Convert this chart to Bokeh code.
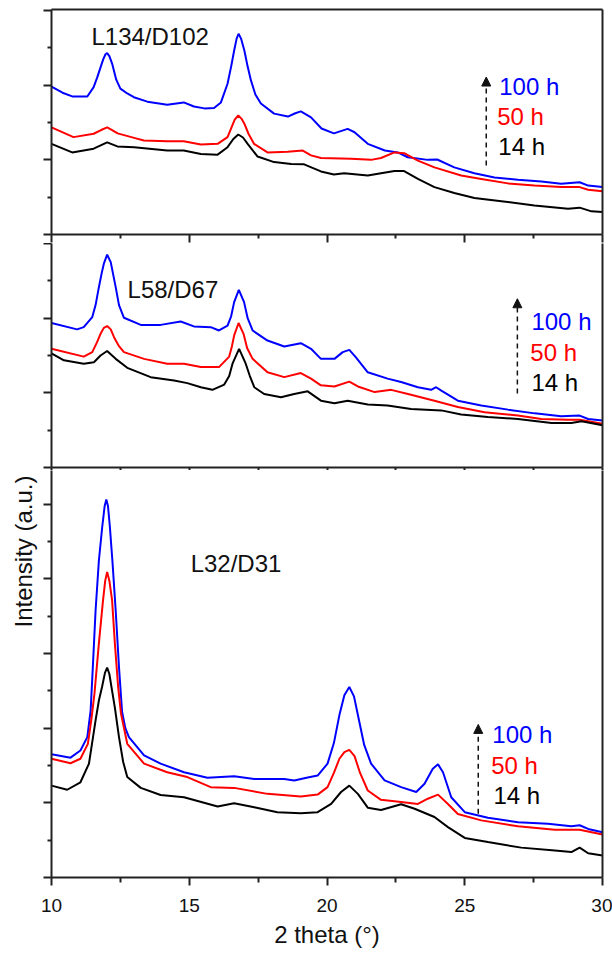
import math
from bokeh.plotting import figure
from bokeh.layouts import column, row
from bokeh.models import (FixedTicker, LinearAxis, Range1d, Arrow,
                          NormalHead, ColumnDataSource)
from bokeh.core.properties import value
from bokeh.embed import file_html
from bokeh.resources import INLINE

# ---------------- data ----------------
x_ticks = [10, 15, 20, 25, 30]
x_minor = [12.5, 17.5, 22.5, 27.5]
series_colors = ["#0000FF", "#FF0000", "#000000"]
series_names = ["100 h", "50 h", "14 h"]
panel_names = ["L134/D102", "L58/D67", "L32/D31"]
y_title = "Intensity (a.u.)"
x_title = "2 theta (\u00b0)"

# panel 1 : L134/D102
p1_blue = [(10, 3.96), (10.4, 3.80), (10.75, 3.70), (11.3, 3.70), (11.53, 3.95), (11.66, 4.21),
           (11.78, 4.48), (11.88, 4.70), (11.96, 4.83), (12.02, 4.86), (12.1, 4.78), (12.2, 4.58),
           (12.35, 4.15), (12.5, 3.91), (12.75, 3.78), (12.99, 3.68), (13.48, 3.56), (14.2, 3.48),
           (14.8, 3.54), (15.17, 3.43), (15.55, 3.38), (15.9, 3.39), (16.15, 3.54), (16.39, 4.04),
           (16.52, 4.50), (16.63, 4.93), (16.72, 5.25), (16.79, 5.38), (16.88, 5.25), (17.0, 4.93),
           (17.12, 4.50), (17.24, 4.13), (17.4, 3.75), (17.6, 3.51), (18.08, 3.24), (18.58, 3.16),
           (18.85, 3.25), (19.05, 3.30), (19.42, 3.14), (19.8, 2.84), (20.25, 2.71), (20.75, 2.83),
           (21.0, 2.74), (21.48, 2.43), (22.1, 2.25), (22.57, 2.20), (22.93, 2.07), (23.66, 2.00),
           (24.0, 2.01), (24.62, 1.80), (25.35, 1.64), (26.08, 1.53), (26.93, 1.47), (27.78, 1.42),
           (28.5, 1.36), (29.17, 1.40), (29.48, 1.31), (30, 1.27)]
p1_red = [(10, 2.87), (10.8, 2.61), (11.53, 2.70), (11.8, 2.80), (12.02, 2.87), (12.2, 2.80),
          (12.4, 2.71), (13.0, 2.59), (13.35, 2.52), (14.2, 2.50), (14.8, 2.50), (15.42, 2.41),
          (16.03, 2.43), (16.39, 2.61), (16.55, 2.90), (16.65, 3.08), (16.78, 3.19), (16.9, 3.10),
          (17.0, 2.97), (17.15, 2.70), (17.35, 2.43), (17.84, 2.20), (18.57, 2.22), (19.12, 2.25),
          (19.42, 2.12), (19.78, 2.05), (20.87, 2.03), (21.6, 2.00), (21.96, 2.05), (22.45, 2.20),
          (22.8, 2.18), (23.3, 1.98), (23.9, 1.80), (24.87, 1.58), (25.6, 1.49), (26.57, 1.37),
          (27.53, 1.31), (28.5, 1.27), (29.17, 1.27), (29.48, 1.20), (30, 1.16)]
p1_black = [(10, 2.43), (10.75, 2.20), (11.53, 2.30), (12.02, 2.47), (12.39, 2.36), (13.0, 2.34),
            (14.2, 2.25), (14.8, 2.25), (15.42, 2.16), (16.03, 2.14), (16.39, 2.34), (16.6, 2.56),
            (16.78, 2.68), (16.95, 2.60), (17.12, 2.43), (17.48, 2.09), (18.08, 1.94), (18.7, 1.89),
            (19.17, 1.88), (19.78, 1.69), (20.25, 1.61), (20.62, 1.64), (21.48, 1.58), (21.96, 1.64),
            (22.45, 1.70), (22.8, 1.70), (23.3, 1.49), (23.9, 1.27), (24.62, 1.11), (25.35, 0.98),
            (26.33, 0.89), (27.53, 0.78), (28.75, 0.69), (29.17, 0.72), (29.6, 0.62), (30, 0.60)]

# panel 2 : L58/D67
p2_blue = [(10, 3.87), (10.93, 3.70), (11.17, 3.76), (11.48, 4.03), (11.6, 4.35), (11.72, 4.83),
           (11.82, 5.20), (11.9, 5.46), (12.02, 5.70), (12.15, 5.50), (12.33, 4.83), (12.45, 4.35),
           (12.63, 4.01), (13.24, 3.82), (13.96, 3.82), (14.69, 3.91), (15.17, 3.78), (15.78, 3.76),
           (16.08, 3.67), (16.39, 3.80), (16.52, 4.05), (16.63, 4.43), (16.8, 4.76), (16.99, 4.43),
           (17.12, 4.00), (17.3, 3.67), (17.84, 3.40), (18.45, 3.24), (19.05, 3.33), (19.42, 3.18),
           (19.78, 2.91), (20.27, 2.91), (20.57, 3.09), (20.81, 3.15), (21.05, 2.95), (21.48, 2.55),
           (22.2, 2.38), (22.69, 2.29), (23.3, 2.15), (23.78, 2.08), (23.96, 2.15), (24.15, 2.06),
           (24.75, 1.79), (25.6, 1.66), (26.57, 1.55), (27.54, 1.45), (28.5, 1.37), (29.17, 1.39),
           (29.48, 1.30), (30, 1.26)]
p2_red = [(10, 3.18), (11.17, 2.97), (11.48, 3.09), (11.65, 3.35), (11.78, 3.58), (11.9, 3.74),
          (12.02, 3.79), (12.15, 3.70), (12.27, 3.49), (12.45, 3.25), (12.63, 3.09), (13.36, 2.91),
          (14.2, 2.78), (14.81, 2.78), (15.42, 2.69), (16.08, 2.69), (16.45, 2.97), (16.55, 3.25),
          (16.63, 3.54), (16.79, 3.87), (16.97, 3.58), (17.1, 3.20), (17.3, 2.91), (17.84, 2.55),
          (18.45, 2.42), (19.05, 2.53), (19.42, 2.38), (19.78, 2.20), (20.27, 2.17), (20.81, 2.30),
          (21.12, 2.17), (21.73, 2.02), (22.33, 2.08), (22.94, 1.97), (23.9, 1.79), (24.75, 1.62),
          (25.72, 1.48), (26.93, 1.39), (27.78, 1.30), (28.75, 1.28), (29.17, 1.28), (30, 1.17)]
p2_black = [(10, 3.06), (10.45, 2.87), (11.17, 2.78), (11.54, 2.82), (11.78, 3.00), (12.02, 3.12),
            (12.33, 2.91), (12.75, 2.67), (13.6, 2.42), (14.45, 2.33), (14.93, 2.26), (15.42, 2.15),
            (15.84, 2.08), (16.27, 2.22), (16.45, 2.45), (16.57, 2.78), (16.81, 3.18), (17.05, 2.78),
            (17.2, 2.45), (17.36, 2.15), (17.72, 1.97), (18.33, 1.88), (18.81, 1.97), (19.3, 2.04),
            (19.78, 1.79), (20.27, 1.72), (20.75, 1.79), (21.48, 1.69), (22.2, 1.66), (23.05, 1.57),
            (24.15, 1.53), (24.87, 1.42), (25.84, 1.35), (26.93, 1.30), (28.15, 1.19), (28.87, 1.19),
            (29.24, 1.24), (30, 1.13)]

# panel 3 : L32/D31
p3_blue = [(10, 3.30), (10.69, 3.21), (11.05, 3.40), (11.3, 3.76), (11.42, 4.47), (11.5, 5.63),
           (11.6, 7.15), (11.72, 8.49), (11.84, 9.38), (11.93, 9.95), (11.99, 10.12), (12.05, 9.95),
           (12.12, 9.38), (12.21, 8.49), (12.33, 7.15), (12.45, 5.63), (12.56, 4.45), (12.68, 4.00),
           (12.81, 3.76), (13.36, 3.27), (13.96, 3.05), (14.81, 2.82), (15.66, 2.67), (16.63, 2.71),
           (17.36, 2.64), (18.45, 2.64), (18.81, 2.60), (19.3, 2.68), (19.66, 2.73), (20.02, 3.05),
           (20.25, 3.60), (20.45, 4.35), (20.63, 4.88), (20.81, 5.10), (20.98, 4.85), (21.15, 4.25),
           (21.35, 3.55), (21.6, 3.05), (22.09, 2.60), (22.69, 2.42), (23.24, 2.29), (23.54, 2.51),
           (23.84, 2.91), (24.03, 3.03), (24.21, 2.82), (24.51, 2.15), (25.0, 1.75), (25.84, 1.60),
           (26.93, 1.48), (28.02, 1.44), (28.87, 1.37), (29.17, 1.40), (29.48, 1.30), (30, 1.21)]
p3_red = [(10, 3.18), (10.69, 3.06), (11.05, 3.18), (11.32, 3.58), (11.45, 4.25), (11.56, 4.93),
          (11.72, 6.27), (11.87, 7.42), (11.95, 7.95), (12.02, 8.18), (12.1, 7.95), (12.2, 7.42),
          (12.3, 6.27), (12.42, 5.10), (12.52, 4.40), (12.75, 3.58), (13.36, 3.05), (14.2, 2.82),
          (14.93, 2.69), (15.78, 2.42), (16.63, 2.40), (17.84, 2.24), (19.05, 2.17), (19.66, 2.22),
          (20.02, 2.42), (20.25, 2.80), (20.45, 3.18), (20.63, 3.36), (20.81, 3.42), (21.0, 3.25),
          (21.2, 2.80), (21.48, 2.33), (21.96, 2.08), (22.69, 2.02), (23.3, 1.97), (23.66, 2.11),
          (24.03, 2.22), (24.39, 1.97), (24.75, 1.70), (25.6, 1.53), (26.93, 1.37), (28.27, 1.28),
          (29.17, 1.28), (30, 1.15)]
p3_black = [(10, 2.46), (10.57, 2.35), (11.05, 2.55), (11.36, 3.05), (11.6, 4.21), (11.72, 4.74),
            (11.84, 5.12), (11.94, 5.48), (12.02, 5.62), (12.1, 5.45), (12.2, 5.00), (12.3, 4.55),
            (12.45, 3.76), (12.6, 3.10), (12.75, 2.69), (13.24, 2.40), (13.96, 2.21), (14.81, 2.15),
            (16.03, 1.90), (16.63, 1.99), (17.36, 1.88), (18.2, 1.75), (19.05, 1.72), (19.66, 1.75),
            (20.15, 1.97), (20.51, 2.29), (20.81, 2.46), (21.12, 2.24), (21.48, 1.87), (21.96, 1.81),
            (22.69, 1.96), (23.18, 1.84), (23.9, 1.62), (24.39, 1.35), (25.0, 1.06), (25.84, 0.95),
            (27.05, 0.80), (28.27, 0.72), (28.87, 0.68), (29.17, 0.80), (29.48, 0.65), (30, 0.59)]

# annotation anchors (data units of each panel; text anchors are the text centre heights)
name_pos = [(11.45, 5.30), (12.76, 4.77), (15.05, 8.42)]
legend_x = [[26.25, 26.18, 26.22], [27.42, 27.38, 27.42], [26.0, 25.96, 26.04]]
legend_y = [[3.96, 3.16, 2.37], [3.91, 3.09, 2.29], [3.82, 2.99, 2.19]]
arrow_pos = [(25.78, 1.85, 4.22), (26.91, 1.98, 4.52), (25.49, 1.71, 4.10)]
y_title_pos = (23, 402)

FONT = "Liberation Sans"
AX = "#222222"
LEFT_W = 40


def make_panel(height, ymax, mb_top, mb_bottom, yt, ym, xout_major, xout_minor,
               labels, top_line, idx, series):
    p = figure(width=612 - LEFT_W, height=height, x_range=Range1d(10, 30),
               y_range=Range1d(0, ymax), output_backend="svg", toolbar_location=None,
               x_axis_type=None, y_axis_type=None,
               min_border_left=51 - LEFT_W, min_border_right=10, min_border_top=mb_top,
               min_border_bottom=mb_bottom)
    p.outline_line_color = None
    p.background_fill_color = "white"
    p.border_fill_color = "white"

    xa = LinearAxis(ticker=FixedTicker(ticks=x_ticks, minor_ticks=x_minor),
                    axis_line_width=2, axis_line_color=AX,
                    major_tick_line_width=2, minor_tick_line_width=2,
                    major_tick_line_color=AX, minor_tick_line_color=AX,
                    major_tick_in=0, minor_tick_in=0,
                    major_tick_out=xout_major, minor_tick_out=xout_minor)
    if labels:
        xa.major_label_text_font = FONT
        xa.major_label_text_font_size = "19px"
        xa.major_label_text_color = "#111111"
        xa.major_label_standoff = 13
        xa.axis_label = x_title
        xa.axis_label_text_font = FONT
        xa.axis_label_text_font_size = "24px"
        xa.axis_label_text_font_style = "normal"
        xa.axis_label_text_color = "#111111"
        xa.axis_label_standoff = 6
    else:
        xa.major_label_text_font_size = "1px"
        xa.major_label_text_color = None
        xa.major_label_standoff = 0
    p.add_layout(xa, "below")

    ya = LinearAxis(ticker=FixedTicker(ticks=yt, minor_ticks=ym),
                    axis_line_width=2, axis_line_color=AX,
                    major_tick_line_width=2, minor_tick_line_width=2,
                    major_tick_line_color=AX, minor_tick_line_color=AX,
                    major_tick_in=0, minor_tick_in=0, major_tick_out=8, minor_tick_out=4,
                    major_label_text_font_size="1px", major_label_text_color=None,
                    major_label_standoff=0)
    p.add_layout(ya, "left")

    ra = LinearAxis(ticker=FixedTicker(ticks=[]), axis_line_width=2, axis_line_color=AX,
                    major_tick_out=0, major_tick_in=0, minor_tick_out=0, minor_tick_in=0,
                    major_label_text_font_size="1px", major_label_text_color=None,
                    major_label_standoff=0)
    p.add_layout(ra, "right")
    if top_line:
        ta = LinearAxis(ticker=FixedTicker(ticks=[]), axis_line_width=2, axis_line_color=AX,
                        major_tick_out=0, major_tick_in=0, minor_tick_out=0, minor_tick_in=0,
                        major_label_text_font_size="1px", major_label_text_color=None,
                        major_label_standoff=0)
        p.add_layout(ta, "above")

    for pts, col in zip(series, series_colors):
        xs = [a for a, b in pts]
        ys = [b for a, b in pts]
        p.line(xs, ys, line_color=col, line_width=2)

    nx, ny = name_pos[idx]
    p.text(x=[nx], y=[ny], text=[panel_names[idx]], text_font=value(FONT),
           text_font_size=value("24px"), text_color="#111111",
           text_align="left", text_baseline="middle")

    src = ColumnDataSource(dict(x=legend_x[idx], y=legend_y[idx], t=series_names,
                                c=series_colors))
    p.text(x="x", y="y", text="t", text_color="c", source=src, text_font=value(FONT),
           text_font_size=value("24px"), text_align="left", text_baseline="middle")

    ax, y0, y1 = arrow_pos[idx]
    p.add_layout(Arrow(x_start=ax, y_start=y0, x_end=ax, y_end=y1, line_color="#111111",
                       line_width=1.5, line_dash="5 4",
                       end=NormalHead(size=9, fill_color="#111111", line_color="#111111",
                                      line_width=1)))
    return p


p1 = make_panel(243, 6.03, 9, 9, [0, 2, 4, 6], [1, 3, 5], 8, 4, False, True, 0,
                [p1_blue, p1_red, p1_black])
p2 = make_panel(227, 6.0, 0, 3, [0, 2, 4, 6], [1, 3, 5], 3, 3, False, False, 1,
                [p2_blue, p2_red, p2_black])
p3 = make_panel(483, 10.9, 0, 76, [0, 2, 4, 6, 8, 10], [1, 3, 5, 7, 9], 8, 5, True, False, 2,
                [p3_blue, p3_red, p3_black])

# narrow strip on the left that carries the shared y-axis title
ylab = figure(width=LEFT_W, height=953, x_range=Range1d(0, LEFT_W), y_range=Range1d(0, 953),
              output_backend="svg", toolbar_location=None, x_axis_type=None, y_axis_type=None,
              min_border=0)
ylab.outline_line_color = None
ylab.text(x=[y_title_pos[0]], y=[y_title_pos[1]], text=[y_title], angle=math.pi / 2,
          text_font=value(FONT), text_font_size=value("24px"), text_color="#111111",
          text_align="center", text_baseline="middle")

layout = row(ylab, column(p1, p2, p3, spacing=0), spacing=0)
open("out.html", "w").write(file_html(layout, INLINE))
